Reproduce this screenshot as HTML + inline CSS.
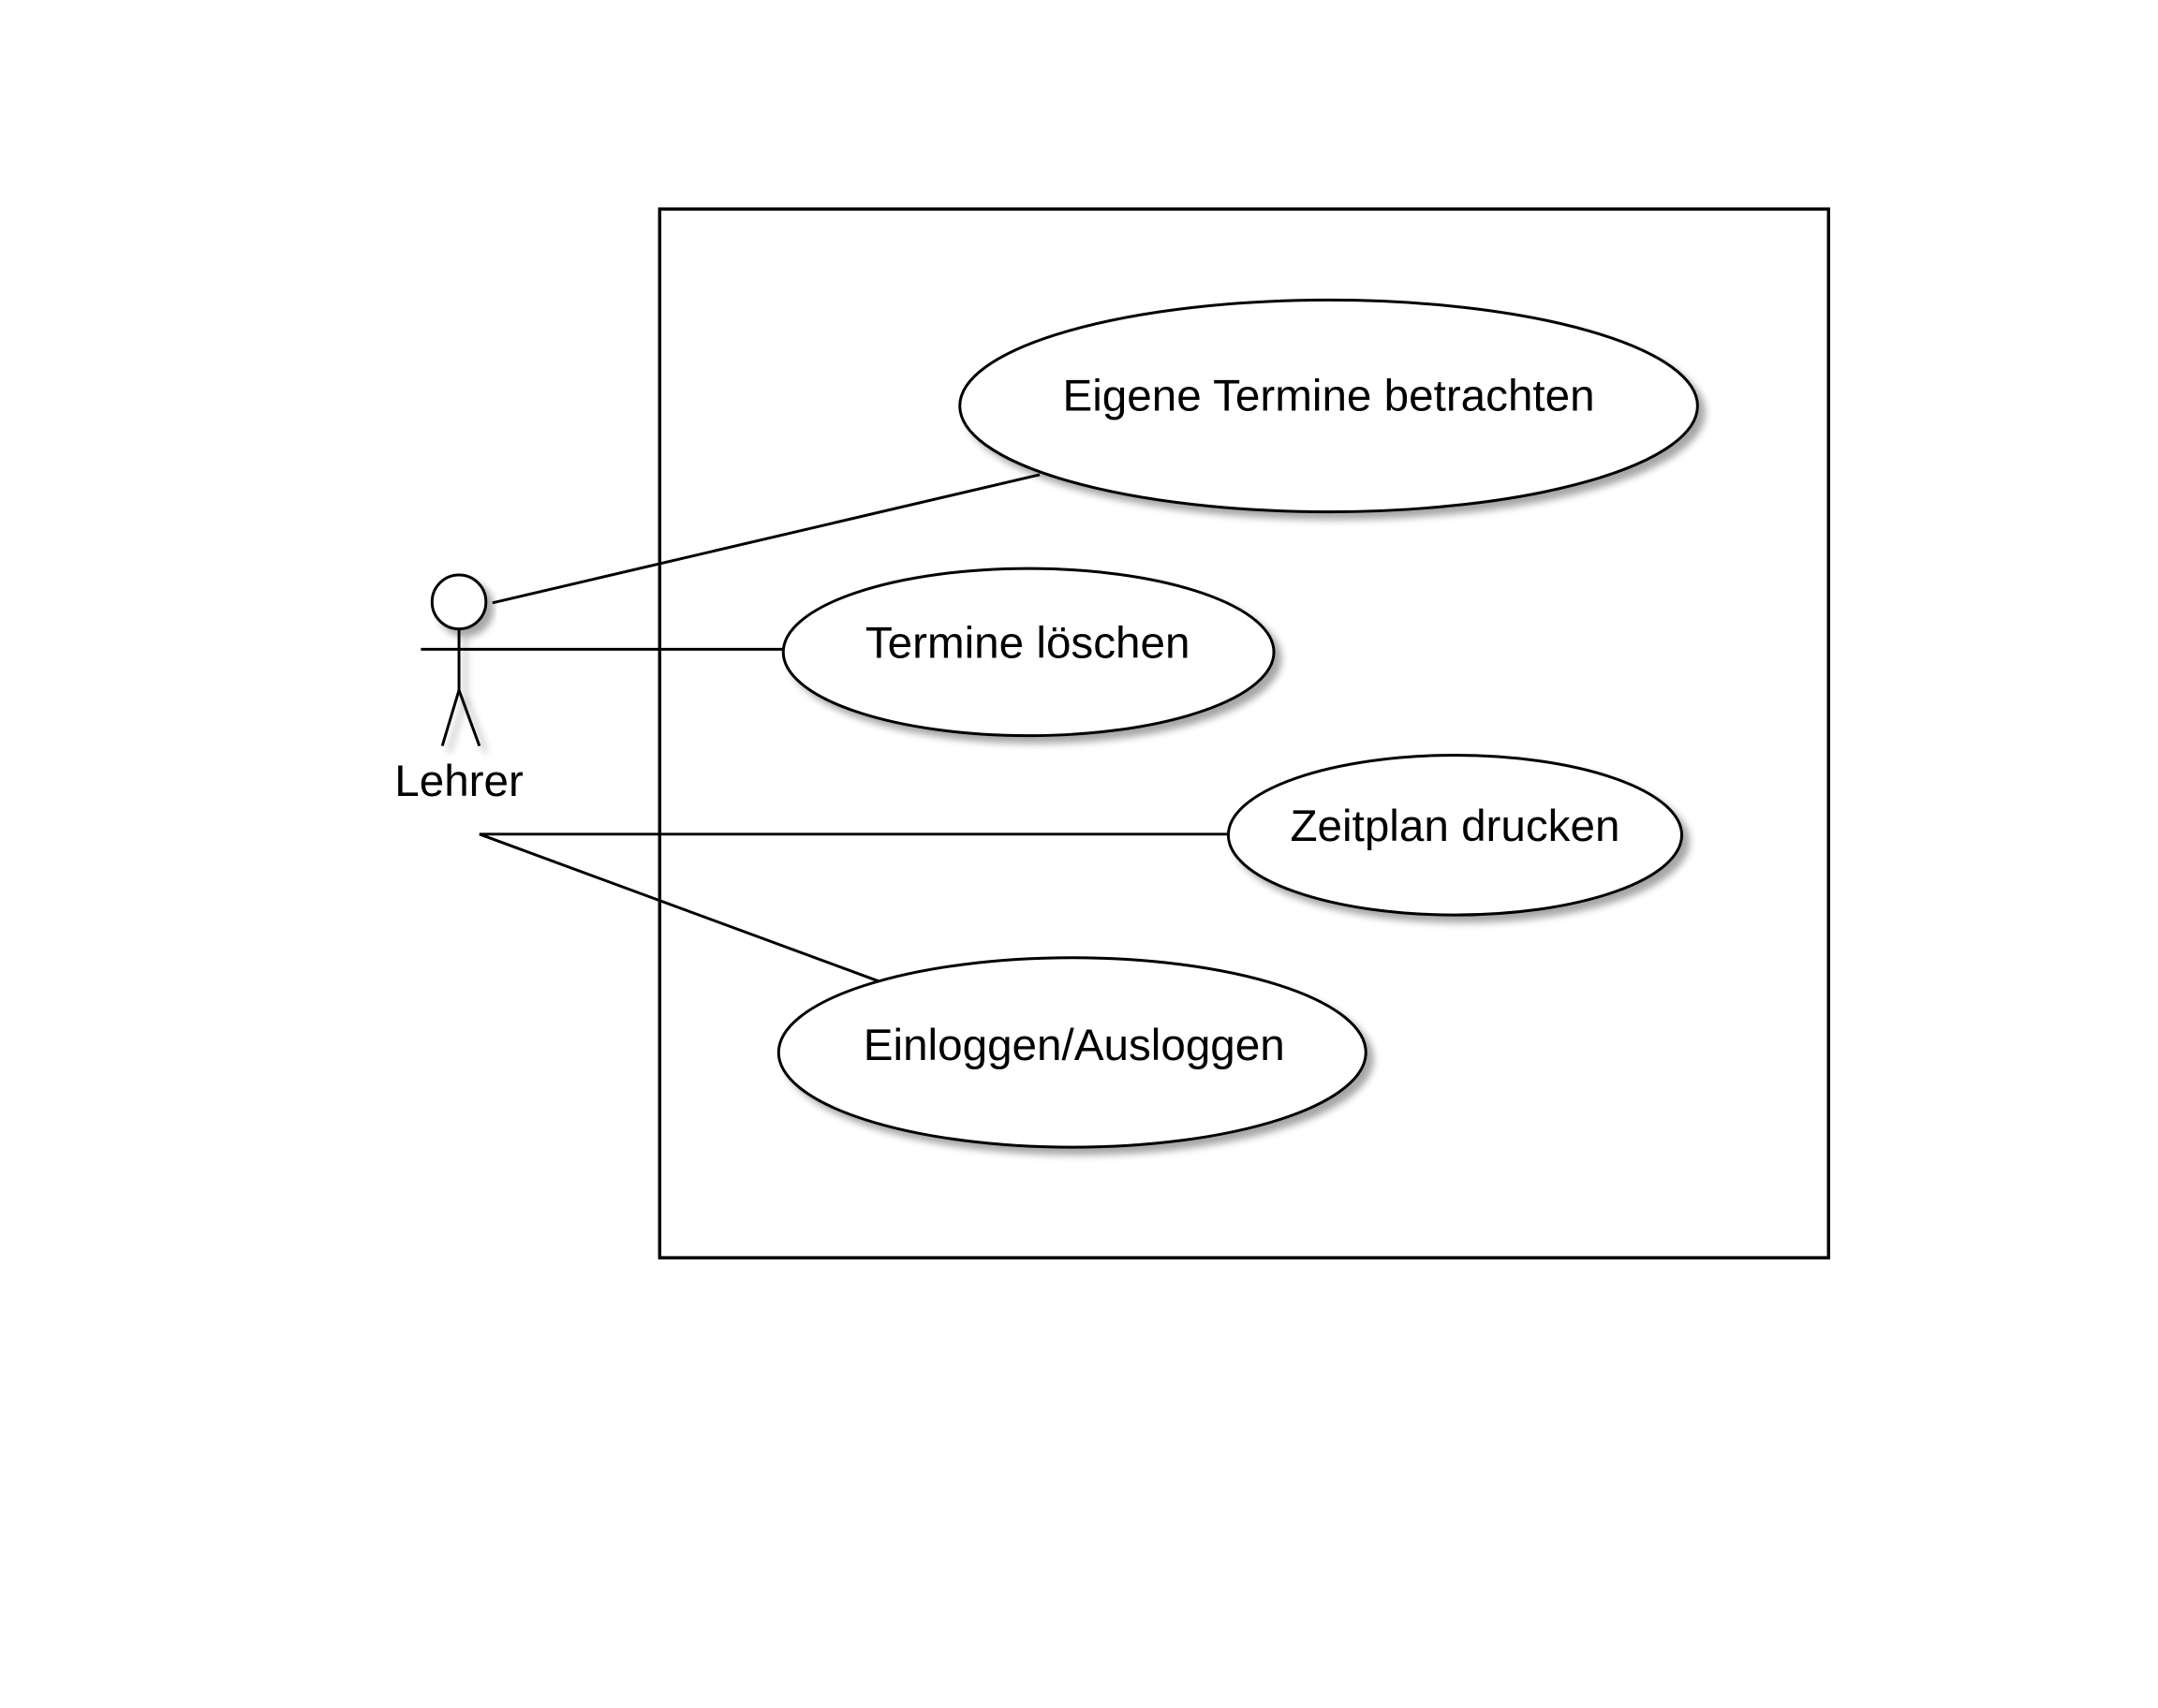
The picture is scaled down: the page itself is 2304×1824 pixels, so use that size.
<!DOCTYPE html>
<html><head><meta charset="utf-8"><style>html,body{margin:0;padding:0;background:#fff}svg{display:block}</style></head>
<body>
<svg width="2304" height="1824" viewBox="0 0 2304 1824" xmlns="http://www.w3.org/2000/svg">
<defs>
<filter id="sh" x="-10%" y="-10%" width="130%" height="140%">
<feGaussianBlur in="SourceAlpha" stdDeviation="4"/>
<feOffset dx="7" dy="7" result="b"/>
<feComponentTransfer><feFuncA type="linear" slope="0.35"/></feComponentTransfer>
<feMerge><feMergeNode/><feMergeNode in="SourceGraphic"/></feMerge>
</filter>
</defs>
<rect width="2304" height="1824" fill="#fff"/>
<g transform="scale(0.992)">
<rect x="710" y="225" width="1258" height="1129" fill="none" stroke="#000" stroke-width="3.5"/>
<g stroke="#000" stroke-width="3" fill="none">
<line x1="530" y1="649" x2="1119" y2="511"/>
<line x1="453" y1="699" x2="843" y2="699"/>
<line x1="516" y1="898" x2="1323" y2="898"/>
<line x1="516" y1="898" x2="945" y2="1056"/>
</g>
<g filter="url(#sh)" stroke="#000" stroke-width="3" fill="#fff">
<ellipse cx="1430" cy="437" rx="397" ry="114"/>
<ellipse cx="1107" cy="702" rx="264" ry="90"/>
<ellipse cx="1566" cy="899" rx="244" ry="86"/>
<ellipse cx="1154" cy="1133" rx="316" ry="102"/>
</g>
<g filter="url(#sh)" stroke="#000" stroke-width="3" fill="none">
<circle cx="494" cy="648" r="29" fill="#fff"/>
<line x1="494" y1="677" x2="494" y2="743"/>
<line x1="494" y1="743" x2="476" y2="803"/>
<line x1="494" y1="743" x2="516" y2="803"/>
</g>
<g font-family="Liberation Sans, sans-serif" font-size="48" text-anchor="middle" fill="#000">
<text x="1430" y="442">Eigene Termine betrachten</text>
<text x="1106" y="708">Termine löschen</text>
<text x="1566" y="905">Zeitplan drucken</text>
<text x="1156" y="1141">Einloggen/Ausloggen</text>
<text x="494" y="857">Lehrer</text>
</g>
</g>
</svg>
</body></html>
